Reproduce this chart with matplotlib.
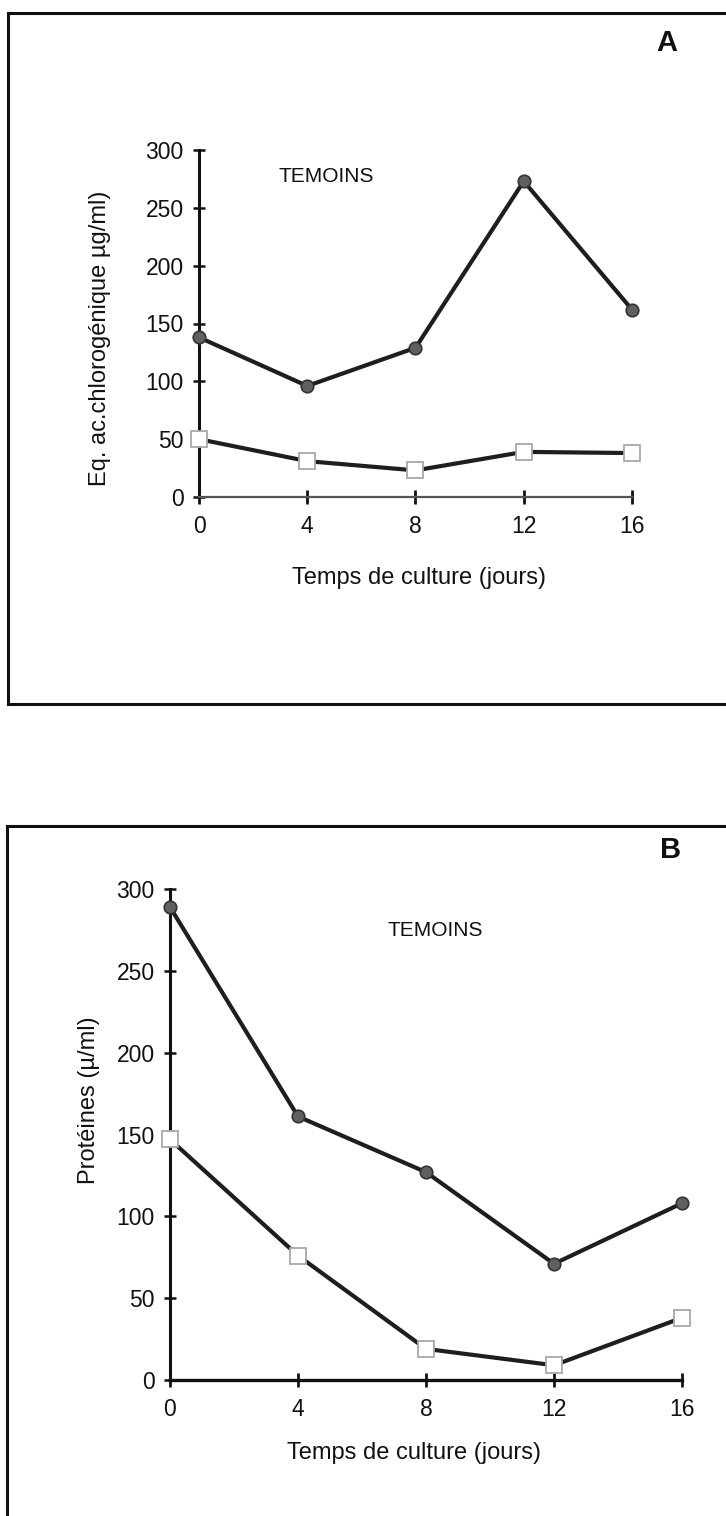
import matplotlib
matplotlib.use("Agg")
import matplotlib.pyplot as plt
from matplotlib.lines import Line2D

# ── Data ─────────────────────────────────────────────────────────────────────
jours = [0, 4, 8, 12, 16]

# Panel A – Eq. ac. chlorogénique (µg/ml)
phenols_cercles = [138, 96, 129, 273, 162]
phenols_carres = [50, 31, 23, 39, 38]

# Panel B – Protéines (µ/ml)
prot_cercles = [289, 161, 127, 71, 108]
prot_carres = [147, 76, 19, 9, 38]

y_ticks = [0, 50, 100, 150, 200, 250, 300]

W, H = 726, 1516
plt.rcParams["font.family"] = ["Liberation Sans", "DejaVu Sans"]

fig = plt.figure(figsize=(W / 100, H / 100), dpi=100)
fig.patch.set_facecolor("white")


def fx(x):
    return x / W


def fy(y):
    return 1 - y / H


def axes_px(left, right, top, bottom):
    return fig.add_axes([fx(left), fy(bottom), (right - left) / W, (bottom - top) / H])


def style_axes(ax, xaxis_color, xaxis_lw):
    ax.set_xlim(0, 16)
    ax.set_ylim(0, 300)
    ax.set_xticks(jours)
    ax.set_yticks(y_ticks)
    for s in ("top", "right"):
        ax.spines[s].set_visible(False)
    ax.spines["left"].set_linewidth(2.2)
    ax.spines["left"].set_color("#111111")
    ax.spines["bottom"].set_linewidth(xaxis_lw)
    ax.spines["bottom"].set_color(xaxis_color)
    ax.tick_params(axis="y", direction="inout", length=8, width=1.8,
                   labelsize=16.5, pad=7, colors="#111111")
    ax.tick_params(axis="x", direction="inout", length=10, width=2,
                   labelsize=16.5, pad=8, colors="#111111")
    ax.patch.set_alpha(0)


def draw_series(ax, cercles, carres):
    ax.plot(jours, carres, color="#1e1e1e", lw=3, zorder=3, clip_on=False,
            marker="s", markersize=12, markerfacecolor="white",
            markeredgecolor="#a8a8a8", markeredgewidth=1.3)
    ax.plot(jours, cercles, color="#1e1e1e", lw=3, zorder=4, clip_on=False,
            marker="o", markersize=9, markerfacecolor="#606060",
            markeredgecolor="#333333", markeredgewidth=1.2)


# ── Panel A ──────────────────────────────────────────────────────────────────
axA = axes_px(199, 632, 150, 497)
style_axes(axA, "#555555", 1.6)
draw_series(axA, phenols_cercles, phenols_carres)

fig.text(fx(100), fy(338), "Eq. ac.chlorogénique µg/ml)", rotation=90,
         ha="center", va="center", fontsize=17, color="#111111")
fig.text(fx(419), fy(578), "Temps de culture (jours)", ha="center",
         va="center", fontsize=17, color="#111111")
fig.text(fx(326), fy(177), "TEMOINS", ha="center", va="center",
         fontsize=15, color="#111111")
fig.text(fx(667), fy(43), "A", ha="center", va="center", fontsize=21,
         fontweight="bold", color="#111111")

# frame A (right side runs off the page)
for xs, ys in [((8, 8), (13, 704)), ((8, W), (13, 13)), ((8, W), (704, 704))]:
    fig.add_artist(Line2D([fx(x) for x in xs], [fy(y) for y in ys],
                          color="#111111", lw=2.2))

# ── Panel B ──────────────────────────────────────────────────────────────────
axB = axes_px(170, 682, 889, 1380)
style_axes(axB, "#111111", 2.4)
draw_series(axB, prot_cercles, prot_carres)

fig.text(fx(89), fy(1100), "Protéines (µ/ml)", rotation=90, ha="center",
         va="center", fontsize=17, color="#111111")
fig.text(fx(414), fy(1453), "Temps de culture (jours)", ha="center",
         va="center", fontsize=17, color="#111111")
fig.text(fx(435), fy(930), "TEMOINS", ha="center", va="center",
         fontsize=15, color="#111111")
fig.text(fx(671), fy(850), "B", ha="center", va="center", fontsize=21,
         fontweight="bold", color="#111111")

# frame B (runs off the page at right and bottom)
for xs, ys in [((7, 7), (826, H)), ((7, W), (826, 826))]:
    fig.add_artist(Line2D([fx(x) for x in xs], [fy(y) for y in ys],
                          color="#111111", lw=2.2))

fig.savefig("out.png", dpi=100, facecolor="white")
